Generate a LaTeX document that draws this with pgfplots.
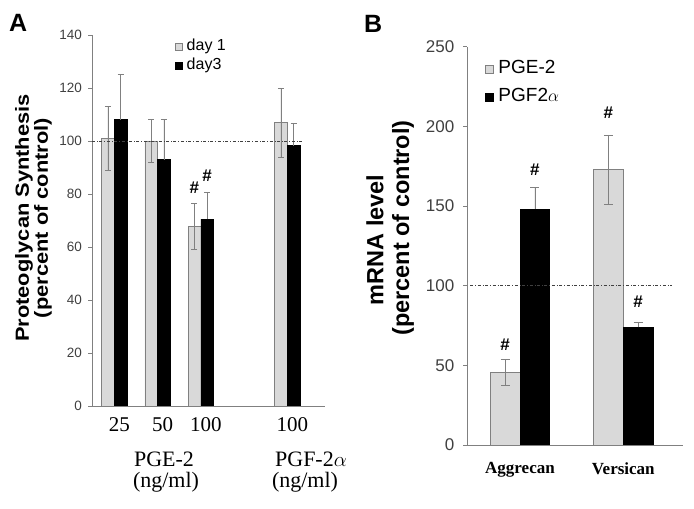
\documentclass[border=0pt]{standalone}
\usepackage{pgfplots}
\pgfplotsset{compat=1.18}
\usepackage{fontspec}
\setmainfont{Liberation Sans}
\newfontfamily\seriffont{Liberation Serif}
\definecolor{lgray}{HTML}{D9D9D9}
\definecolor{bgray}{HTML}{808080}
\definecolor{tickc}{HTML}{404040}
\pgfplotsset{
 legsqA/.style={legend image code/.code={\draw[##1] (0pt,-3.5pt) rectangle (7pt,3.5pt); \path (0pt,0pt) (10pt,0pt);}},
 legsqB/.style={legend image code/.code={\draw[##1] (0pt,-4pt) rectangle (8pt,4pt); \path (0pt,0pt) (11.5pt,0pt);}},
}
\begin{document}
\begin{tikzpicture}[x=1pt,y=1pt]
\useasboundingbox (0,0) rectangle (694,509);
% ---------------- Panel A ----------------
\node[anchor=base west, font=\fontsize{25}{25}\selectfont\bfseries, inner sep=0] at (9,477) {A};
\begin{axis}[
 at={(92pt,103pt)}, anchor=south west, scale only axis, width=233pt, height=371pt,
 xmin=-0.515, xmax=4.87, ymin=0, ymax=140,
 axis x line*=bottom, axis y line*=left,
 axis line style={bgray, line width=0.8pt},
 ytick={0,20,...,140}, tick align=outside, major tick length=4pt,
 tick style={bgray, line width=0.8pt},
 yticklabel style={font=\fontsize{13.5}{14}\selectfont, text=tickc, xshift=-2.5pt},
 /pgf/number format/assume math mode=true,
 xtick={0,1,2,4}, xticklabels={25,50,100,100},
 x tick style={draw=none},
 xticklabel style={font=\seriffont\fontsize{21}{21}\selectfont, xshift=5pt, yshift=-4pt},
 legend style={at={(0.356,0.994)}, anchor=north west, draw=none, fill=none, inner sep=0pt,
   font=\fontsize{16}{19}\selectfont, row sep=1pt,
   nodes={inner sep=1pt, text height=12pt, text depth=4pt}},
 legend cell align=left,
]
\addplot[ybar, bar width=12.7pt, bar shift=0pt, fill=lgray, draw=bgray, line width=0.6pt, legsqA,
  error bars/.cd, y dir=both, y explicit,
  error bar style={bgray, line width=0.6pt},
  error mark options={rotate=90, mark size=3pt, bgray, line width=0.6pt}]
  coordinates {(-0.147,101) +- (0,12) (0.853,100) +- (0,8) (1.853,67.8) +- (0,8.7) (3.853,107) +- (0,13)};
\addlegendentry{day 1}
\addplot[ybar, bar width=12.7pt, bar shift=0pt, fill=black, draw=black, line width=0.6pt, legsqA,
  error bars/.cd, y dir=plus, y explicit,
  error bar style={bgray, line width=0.6pt},
  error mark options={rotate=90, mark size=3pt, bgray, line width=0.6pt}]
  coordinates {(0.147,108) +- (0,17) (1.147,93) +- (0,15) (2.147,70.5) +- (0,10) (4.147,98.3) +- (0,8.3)};
\addlegendentry{day3}
\addplot[sharp plot, no marks, forget plot, black!75, dash dot, line width=0.6pt]
  coordinates {(-0.515,100) (4.33,100)};
\node[font=\bfseries\fontsize{17}{17}\selectfont] at (axis cs:1.853,82.2) {\#};
\node[font=\bfseries\fontsize{17}{17}\selectfont] at (axis cs:2.147,87) {\#};
\end{axis}
\node[inner sep=0, font=\seriffont\fontsize{22}{22}\selectfont] at (164,50) {PGE-2};
\node[inner sep=0, font=\seriffont\fontsize{22}{22}\selectfont] at (166,27) {(ng/ml)};
\node[inner sep=0, font=\seriffont\fontsize{22}{22}\selectfont] at (311,50) {PGF-2$\alpha$};
\node[inner sep=0, font=\seriffont\fontsize{22}{22}\selectfont] at (305,27) {(ng/ml)};
\node[rotate=90, inner sep=0, font=\bfseries\fontsize{19}{19}\selectfont] at (24,291) {\scalebox{1.15}[1]{Proteoglycan Synthesis}};
\node[rotate=90, inner sep=0, font=\bfseries\fontsize{19}{19}\selectfont] at (43,291) {\scalebox{1.15}[1]{(percent of control)}};
% ---------------- Panel B ----------------
\node[anchor=base west, font=\fontsize{25}{25}\selectfont\bfseries, inner sep=0] at (364,476) {B};
\begin{axis}[
 at={(467.3pt,64pt)}, anchor=south west, scale only axis, width=215.4pt, height=398.3pt,
 xmin=-0.51, xmax=1.575, ymin=0, ymax=250,
 axis x line*=bottom, axis y line*=left,
 axis line style={bgray, line width=0.8pt},
 ytick={0,50,...,250}, tick align=outside, major tick length=4pt,
 tick style={bgray, line width=0.8pt},
 yticklabel style={font=\fontsize{17}{18}\selectfont, text=tickc, xshift=-5.5pt},
 /pgf/number format/assume math mode=true,
 xtick={0,1}, xticklabels={Aggrecan,Versican},
 x tick style={draw=none},
 xticklabel style={font=\seriffont\bfseries\fontsize{17}{17}\selectfont, yshift=-10pt},
 legend style={at={(0.083,0.97)}, anchor=north west, draw=none, fill=none, inner sep=0pt,
   font=\fontsize{19}{21}\selectfont, row sep=7pt,
   nodes={inner sep=1pt, text height=14pt, text depth=5pt}},
 legend cell align=left,
]
\addplot[ybar, bar width=29.7pt, bar shift=0pt, fill=lgray, draw=bgray, line width=0.6pt, legsqB,
  error bars/.cd, y dir=both, y explicit,
  error bar style={bgray, line width=0.6pt},
  error mark options={rotate=90, mark size=4.5pt, bgray, line width=0.6pt}]
  coordinates {(-0.144,45.6) +- (0,8.3) (0.856,173) +- (0,21.7)};
\addlegendentry{PGE-2}
\addplot[ybar, bar width=29.7pt, bar shift=0pt, fill=black, draw=black, line width=0.6pt, legsqB,
  error bars/.cd, y dir=plus, y explicit,
  error bar style={bgray, line width=0.6pt},
  error mark options={rotate=90, mark size=4.5pt, bgray, line width=0.6pt}]
  coordinates {(0.144,148) +- (0,13.7) (1.144,73.9) +- (0,3.3)};
\addlegendentry{PGF2$\alpha$}
\addplot[sharp plot, no marks, forget plot, black!75, dash dot, line width=0.6pt]
  coordinates {(-0.48,100) (1.47,100)};
\node[font=\bfseries\fontsize{17}{17}\selectfont] at (axis cs:-0.144,62.8) {\#};
\node[font=\bfseries\fontsize{17}{17}\selectfont] at (axis cs:0.144,172.6) {\#};
\node[font=\bfseries\fontsize{17}{17}\selectfont] at (axis cs:0.856,208.6) {\#};
\node[font=\bfseries\fontsize{17}{17}\selectfont] at (axis cs:1.144,90) {\#};
\end{axis}
\node[rotate=90, inner sep=0, font=\bfseries\fontsize{23.5}{23.5}\selectfont] at (375,269) {mRNA level};
\node[rotate=90, inner sep=0, font=\bfseries\fontsize{23.5}{23.5}\selectfont] at (403,281) {(percent of control)};
\end{tikzpicture}
\end{document}
